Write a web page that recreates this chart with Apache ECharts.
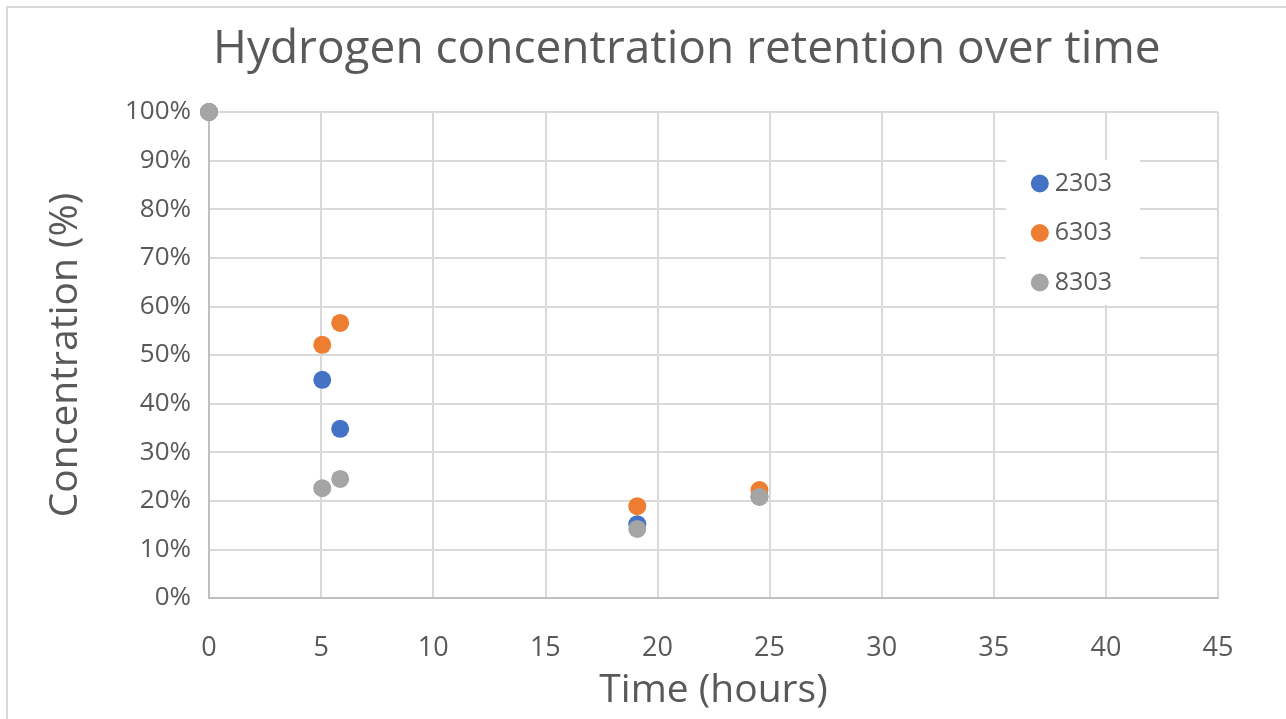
<!DOCTYPE html>
<html>
<head>
<meta charset="utf-8">
<script src="https://cdn.jsdelivr.net/npm/echarts@6/dist/echarts.min.js"></script>
<style>html,body{margin:0;padding:0;background:#fff}#c{width:1286px;height:719px}</style>
</head>
<body>
<div id="c"></div>
<script>
const titleText = 'Hydrogen concentration retention over time';
const xAxisName = 'Time (hours)';
const yAxisName = 'Concentration (%)';
const seriesNames = ['2303', '6303', '8303'];
const seriesColors = ['#4472c4', '#ed7d31', '#a5a5a5'];
const hours = [0, 5.05, 5.85, 19.1, 24.55];
const s2303 = [100, 44.9, 34.8, 15.2, 20.9];
const s6303 = [100, 52.1, 56.6, 18.9, 22.2];
const s8303 = [100, 22.6, 24.5, 14.2, 20.8];
const seriesValues = [s2303, s6303, s8303];

const font = '"Open Sans", sans-serif';
const chart = echarts.init(document.getElementById('c'));
chart.setOption({
  animation: false,
  backgroundColor: '#fff',
  title: {
    text: titleText, left: 208, top: 22,
    textStyle: {fontFamily: font, fontSize: 46, fontWeight: 'normal', color: '#595959'}
  },
  graphic: [{
    type: 'rect', shape: {x: 7, y: 7, width: 1300, height: 730},
    style: {fill: 'none', stroke: '#d9d9d9', lineWidth: 2}, silent: true
  }],
  legend: {
    orient: 'vertical', right: 146, top: 160, itemGap: 24.5,
    itemWidth: 18, itemHeight: 18, icon: 'circle',
    backgroundColor: '#fff', padding: [11, 28, 10, 25],
    textStyle: {fontFamily: font, fontSize: 25, color: '#595959', padding: [0, 0, 0, 1]},
    data: seriesNames
  },
  grid: {left: 209, right: 68, top: 112, bottom: 121},
  xAxis: {
    type: 'value', min: 0, max: 45, interval: 5,
    name: xAxisName, nameLocation: 'middle', nameGap: 73,
    nameTextStyle: {fontFamily: font, fontSize: 39, color: '#595959'},
    axisLine: {show: true, lineStyle: {color: '#bfbfbf', width: 2}},
    axisTick: {show: false},
    axisLabel: {fontFamily: font, fontSize: 27, color: '#595959', margin: 37},
    splitLine: {show: true, lineStyle: {color: '#d9d9d9', width: 2}}
  },
  yAxis: {
    type: 'value', min: 0, max: 100, interval: 10,
    name: yAxisName, nameLocation: 'middle', nameGap: 124,
    nameTextStyle: {fontFamily: font, fontSize: 39, color: '#595959'},
    axisLine: {show: true, lineStyle: {color: '#bfbfbf', width: 2}},
    axisTick: {show: false},
    axisLabel: {fontFamily: font, fontSize: 26, color: '#595959', margin: 18, formatter: '{value}%'},
    splitLine: {show: true, lineStyle: {color: '#d9d9d9', width: 2}}
  },
  series: seriesNames.map((n, i) => ({
    name: n, type: 'scatter', symbolSize: 18,
    itemStyle: {color: seriesColors[i], opacity: 1},
    data: hours.map((h, j) => [h, seriesValues[i][j]])
  }))
});
</script>
</body>
</html>
